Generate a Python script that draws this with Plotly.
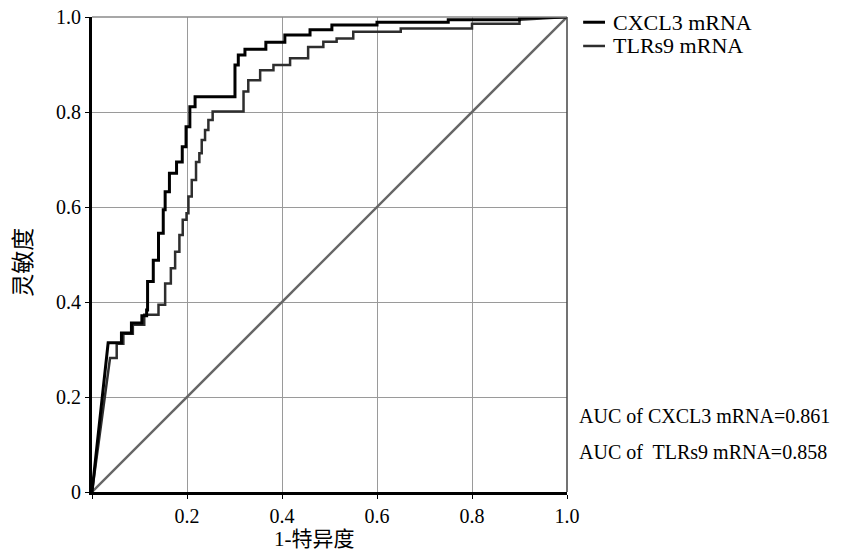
import plotly.graph_objects as go

# ROC curve for CXCL3 mRNA (1-specificity, sensitivity)
cxcl3_fpr = [0.0, 0.034, 0.062, 0.062, 0.083, 0.083, 0.105, 0.105, 0.115, 0.115, 0.117,
             0.117, 0.129, 0.129, 0.140, 0.140, 0.150, 0.150, 0.154, 0.154, 0.163, 0.163,
             0.178, 0.178, 0.190, 0.190, 0.198, 0.198, 0.206, 0.206, 0.217, 0.217, 0.226,
             0.226, 0.301, 0.301, 0.308, 0.308, 0.322, 0.322, 0.366, 0.366, 0.406, 0.406,
             0.459, 0.459, 0.505, 0.505, 0.60, 0.60, 0.75, 0.75, 0.90, 0.90, 1.0]
cxcl3_tpr = [0.0, 0.314, 0.314, 0.335, 0.335, 0.356, 0.356, 0.371, 0.371, 0.383, 0.383,
             0.443, 0.443, 0.488, 0.488, 0.545, 0.545, 0.594, 0.594, 0.632, 0.632, 0.671,
             0.671, 0.695, 0.695, 0.727, 0.727, 0.769, 0.769, 0.811, 0.811, 0.832, 0.832,
             0.832, 0.832, 0.899, 0.899, 0.920, 0.920, 0.932, 0.932, 0.947, 0.947, 0.962,
             0.962, 0.973, 0.973, 0.983, 0.983, 0.989, 0.989, 0.994, 0.994, 0.998, 1.0]

# ROC curve for TLRs9 mRNA
tlr9_fpr = [0.0, 0.038, 0.052, 0.052, 0.066, 0.066, 0.086, 0.086, 0.110, 0.110, 0.140,
            0.140, 0.154, 0.154, 0.166, 0.166, 0.175, 0.175, 0.184, 0.184, 0.191, 0.191,
            0.199, 0.199, 0.203, 0.203, 0.210, 0.210, 0.219, 0.219, 0.226, 0.226, 0.231,
            0.231, 0.238, 0.238, 0.245, 0.245, 0.254, 0.254, 0.319, 0.319, 0.329, 0.329,
            0.354, 0.354, 0.382, 0.382, 0.417, 0.417, 0.455, 0.455, 0.487, 0.487, 0.515,
            0.515, 0.550, 0.550, 0.65, 0.65, 0.80, 0.80, 0.90, 0.90, 1.0]
tlr9_tpr = [0.0, 0.282, 0.282, 0.312, 0.312, 0.333, 0.333, 0.352, 0.352, 0.373, 0.373,
            0.394, 0.394, 0.439, 0.439, 0.471, 0.471, 0.506, 0.506, 0.541, 0.541, 0.573,
            0.573, 0.587, 0.587, 0.622, 0.622, 0.657, 0.657, 0.695, 0.695, 0.713, 0.713,
            0.741, 0.741, 0.762, 0.762, 0.783, 0.783, 0.801, 0.801, 0.843, 0.843, 0.867,
            0.867, 0.888, 0.888, 0.899, 0.899, 0.913, 0.913, 0.937, 0.937, 0.948, 0.948,
            0.955, 0.955, 0.969, 0.969, 0.976, 0.976, 0.986, 0.986, 0.994, 1.0]

ref_x = [0.0, 1.0]
ref_y = [0.0, 1.0]

tick_vals = [0, 0.2, 0.4, 0.6, 0.8, 1.0]
y_tick_text = ["0", "0.2", "0.4", "0.6", "0.8", "1.0"]
x_tick_text = ["", "0.2", "0.4", "0.6", "0.8", "1.0"]

x_title = "1-特异度"
y_title = "灵敏度"
legend_names = ["CXCL3 mRNA", "TLRs9 mRNA"]
auc_texts = ["AUC of CXCL3 mRNA=0.861", "AUC of  TLRs9 mRNA=0.858"]

serif = "Liberation Serif, Times New Roman, serif"
cjk = "Liberation Serif, Noto Sans CJK SC, sans-serif"

fig = go.Figure()
fig.add_trace(go.Scatter(x=ref_x, y=ref_y, mode="lines", showlegend=False,
                         line=dict(color="#666666", width=2.4)))
fig.add_trace(go.Scatter(x=tlr9_fpr, y=tlr9_tpr, mode="lines", name=legend_names[1],
                         line=dict(color="#2e2e2e", width=2.5), showlegend=False))
fig.add_trace(go.Scatter(x=cxcl3_fpr, y=cxcl3_tpr, mode="lines", name=legend_names[0],
                         line=dict(color="#000000", width=3), showlegend=False))

# legend drawn manually (short line samples)
legend_colors = ["#000000", "#2e2e2e"]
legend_widths = [3, 2.5]
legend_y = [0.989, 0.939]
for name, col, w, ly in zip(legend_names, legend_colors, legend_widths, legend_y):
    fig.add_shape(type="line", xref="paper", yref="paper", x0=1.034, x1=1.080,
                  y0=ly, y1=ly, line=dict(color=col, width=w))
    fig.add_annotation(xref="paper", yref="paper", x=1.093, y=ly, text=name,
                       showarrow=False, xanchor="left", yanchor="middle",
                       font=dict(family=serif, size=22, color="#000"))

for t, ay in zip(auc_texts, [0.16, 0.084]):
    fig.add_annotation(xref="paper", yref="paper", x=1.021, y=ay, text=t,
                       showarrow=False, xanchor="left", yanchor="middle",
                       font=dict(family=serif, size=20, color="#000"))

# axis titles
fig.add_annotation(xref="paper", yref="paper", x=0.469, y=-0.099, text=x_title,
                   showarrow=False, xanchor="center", yanchor="middle",
                   font=dict(family=cjk, size=21, color="#000"))
fig.add_annotation(xref="paper", yref="paper", x=-0.145, y=0.483, text=y_title,
                   showarrow=False, xanchor="center", yanchor="middle", textangle=-90,
                   font=dict(family=cjk, size=23, color="#000"))

# top and right frame
fig.add_shape(type="line", xref="paper", yref="paper", x0=0, x1=1, y0=1, y1=1,
              line=dict(color="#8a8a8a", width=1.5))
fig.add_shape(type="line", xref="paper", yref="paper", x0=1, x1=1, y0=0, y1=1,
              line=dict(color="#444444", width=1.5))

fig.update_layout(
    width=845, height=553,
    margin=dict(l=92, r=278, t=17, b=61),
    paper_bgcolor="white", plot_bgcolor="white",
    font=dict(family=serif, size=20, color="#000"),
    xaxis=dict(range=[0, 1], tickvals=tick_vals, ticktext=x_tick_text,
               showgrid=True, gridcolor="#9a9a9a", gridwidth=1,
               showline=True, linecolor="#000", linewidth=3,
               ticks="outside", ticklen=4, tickcolor="#000",
               zeroline=False, fixedrange=True, automargin=False,
               tickfont=dict(family=serif, size=20)),
    yaxis=dict(range=[0, 1], tickvals=tick_vals, ticktext=y_tick_text,
               showgrid=True, gridcolor="#9a9a9a", gridwidth=1,
               showline=True, linecolor="#000", linewidth=3,
               ticks="outside", ticklen=4, tickcolor="#000",
               zeroline=False, fixedrange=True, automargin=False,
               tickfont=dict(family=serif, size=20)),
)

fig.write_html("out.html",
               config={"displayModeBar": False},
               post_script="document.body.style.margin='0';document.body.style.overflow='hidden';")
